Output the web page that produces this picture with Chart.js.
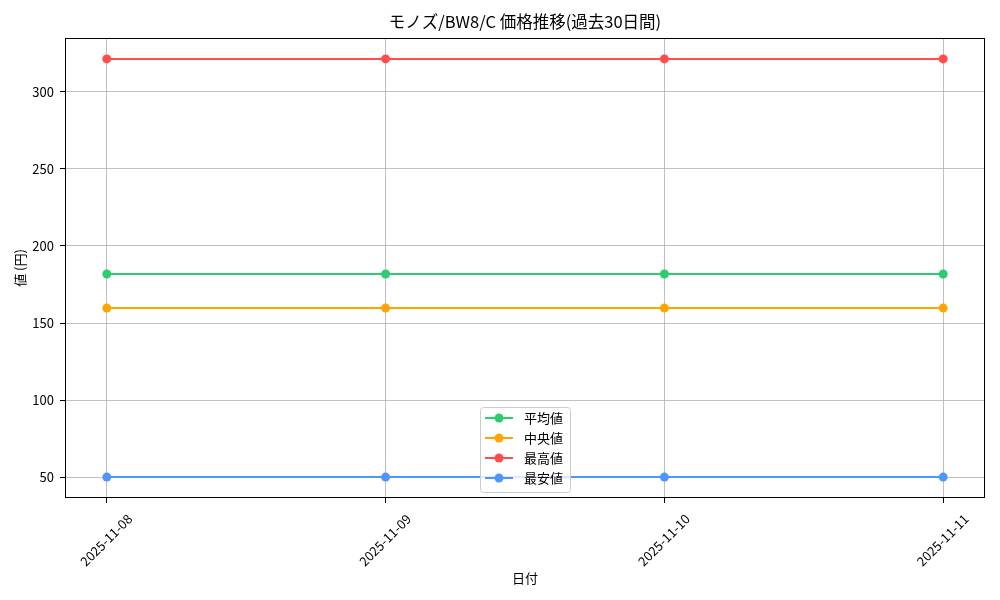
<!DOCTYPE html>
<html>
<head>
<meta charset="utf-8">
<script src="https://cdn.jsdelivr.net/npm/chart.js@4"></script>
<style>
  html, body { margin: 0; padding: 0; background: #fff; }
  #wrap { width: 1000px; height: 600px; }
</style>
</head>
<body>
<div id="wrap"><canvas id="price.chart"></canvas></div>
<script>
const FONT = '"Noto Sans CJK JP", "Noto Sans", sans-serif';

// data
const chartTitle = 'モノズ/BW8/C 価格推移(過去30日間)';
const dates = ['2025-11-08', '2025-11-09', '2025-11-10', '2025-11-11'];
const avgPrices = [181.8, 181.8, 181.8, 181.8];
const medianPrices = [159.7, 159.7, 159.7, 159.7];
const maxPrices = [321.4, 321.4, 321.4, 321.4];
const minPrices = [50, 50, 50, 50];
const yTicks = [50, 100, 150, 200, 250, 300];
const seriesNames = ['平均値', '中央値', '最高値', '最安値'];
const seriesColors = ['#2ecc71', '#ffa502', '#ff4d4d', '#4d96ff'];

const toPoints = arr => arr.map((v, i) => ({x: i, y: v}));
const allValues = [avgPrices, medianPrices, maxPrices, minPrices];

// matplotlib style 5% margins
const yLo = Math.min(...minPrices), yHi = Math.max(...maxPrices);
const yPad = (yHi - yLo) * 0.05;
const xPad = (dates.length - 1) * 0.05;

const datasets = allValues.map((arr, i) => ({
    label: seriesNames[i],
    data: toPoints(arr),
    borderColor: seriesColors[i],
    backgroundColor: seriesColors[i],
    borderWidth: 2,
    pointRadius: 4.5,
    pointHoverRadius: 4.5,
    pointBorderWidth: 0,
    tension: 0,
}));

// frame around plot (spines) + title centred on the plot
const framePlugin = {
    id: 'frame',
    afterDatasetsDraw(chart) {
        const {ctx, chartArea: a} = chart;
        ctx.save();
        ctx.strokeStyle = '#000';
        ctx.lineWidth = 1;
        ctx.strokeRect(a.left + 0.5, a.top + 0.5, a.right - a.left - 1, a.bottom - a.top - 1);
        ctx.font = '16.5px ' + FONT;
        ctx.fillStyle = '#000';
        ctx.textAlign = 'center';
        ctx.textBaseline = 'middle';
        ctx.fillText(chartTitle, (a.left + a.right) / 2, 22);
        ctx.restore();
    }
};

// legend box inside the plot, lower center
const innerLegend = {
    id: 'innerLegend',
    afterDraw(chart) {
        const {ctx, chartArea: a} = chart;
        const sets = chart.data.datasets;
        ctx.save();
        ctx.font = '13px ' + FONT;
        const textW = Math.max(...sets.map(d => ctx.measureText(d.label).width));
        const rowH = 20, padX = 5, handle = 28, gap = 11;
        const w = padX + handle + gap + textW + padX + 2;
        const h = sets.length * rowH + 5;
        const x0 = (a.left + a.right) / 2 - w / 2;
        const y0 = a.bottom - 6 - h;
        ctx.beginPath();
        ctx.roundRect(x0 + 0.5, y0 + 0.5, w, h, 3);
        ctx.fillStyle = 'rgba(255,255,255,0.8)';
        ctx.fill();
        ctx.strokeStyle = '#cccccc';
        ctx.lineWidth = 1;
        ctx.stroke();
        sets.forEach((d, i) => {
            const cy = y0 + 11 + i * rowH;
            const lx = x0 + padX;
            ctx.strokeStyle = d.borderColor;
            ctx.lineWidth = 2;
            ctx.beginPath();
            ctx.moveTo(lx, cy);
            ctx.lineTo(lx + handle, cy);
            ctx.stroke();
            ctx.fillStyle = d.borderColor;
            ctx.beginPath();
            ctx.arc(lx + handle / 2, cy, 4.5, 0, Math.PI * 2);
            ctx.fill();
            ctx.fillStyle = '#000';
            ctx.textAlign = 'left';
            ctx.textBaseline = 'middle';
            ctx.fillText(d.label, lx + handle + gap, cy);
        });
        ctx.restore();
    }
};

const config = {
    type: 'line',
    data: {datasets},
    options: {
        responsive: true,
        maintainAspectRatio: false,
        animation: false,
        devicePixelRatio: 1,
        layout: {padding: {left: 0, right: 15, top: 38, bottom: 0}},
        plugins: {
            legend: {display: false},
            tooltip: {enabled: false},
            title: {display: false}
        },
        scales: {
            x: {
                type: 'linear',
                min: -xPad,
                max: dates.length - 1 + xPad,
                afterBuildTicks: s => { s.ticks = dates.map((d, i) => ({value: i})); },
                afterFit: s => { s.height = 102; },
                ticks: {
                    callback: v => dates[v],
                    color: '#000',
                    font: {family: FONT, size: 13},
                    minRotation: 45,
                    maxRotation: 45,
                    labelOffset: 23,
                    padding: 8
                },
                grid: {color: '#b0b0b0', lineWidth: 0.8, tickColor: '#000', tickLength: 5, tickWidth: 1},
                border: {display: false},
                title: {
                    display: true,
                    text: '日付',
                    color: '#000',
                    font: {family: FONT, size: 13},
                    padding: {top: 0, bottom: 14}
                }
            },
            y: {
                min: yLo - yPad,
                max: yHi + yPad,
                afterBuildTicks: s => { s.ticks = yTicks.map(v => ({value: v})); },
                afterFit: s => { s.width = 65; },
                ticks: {
                    color: '#000',
                    font: {family: FONT, size: 13},
                    padding: 6
                },
                grid: {color: '#b0b0b0', lineWidth: 0.8, tickColor: '#000', tickLength: 5, tickWidth: 1},
                border: {display: false},
                title: {
                    display: true,
                    text: '値 (円)',
                    color: '#000',
                    font: {family: FONT, size: 13},
                    padding: {top: 12, bottom: 0}
                }
            }
        }
    },
    plugins: [framePlugin, innerLegend]
};

const chart = new Chart(document.getElementById('price.chart'), config);
</script>
</body>
</html>
